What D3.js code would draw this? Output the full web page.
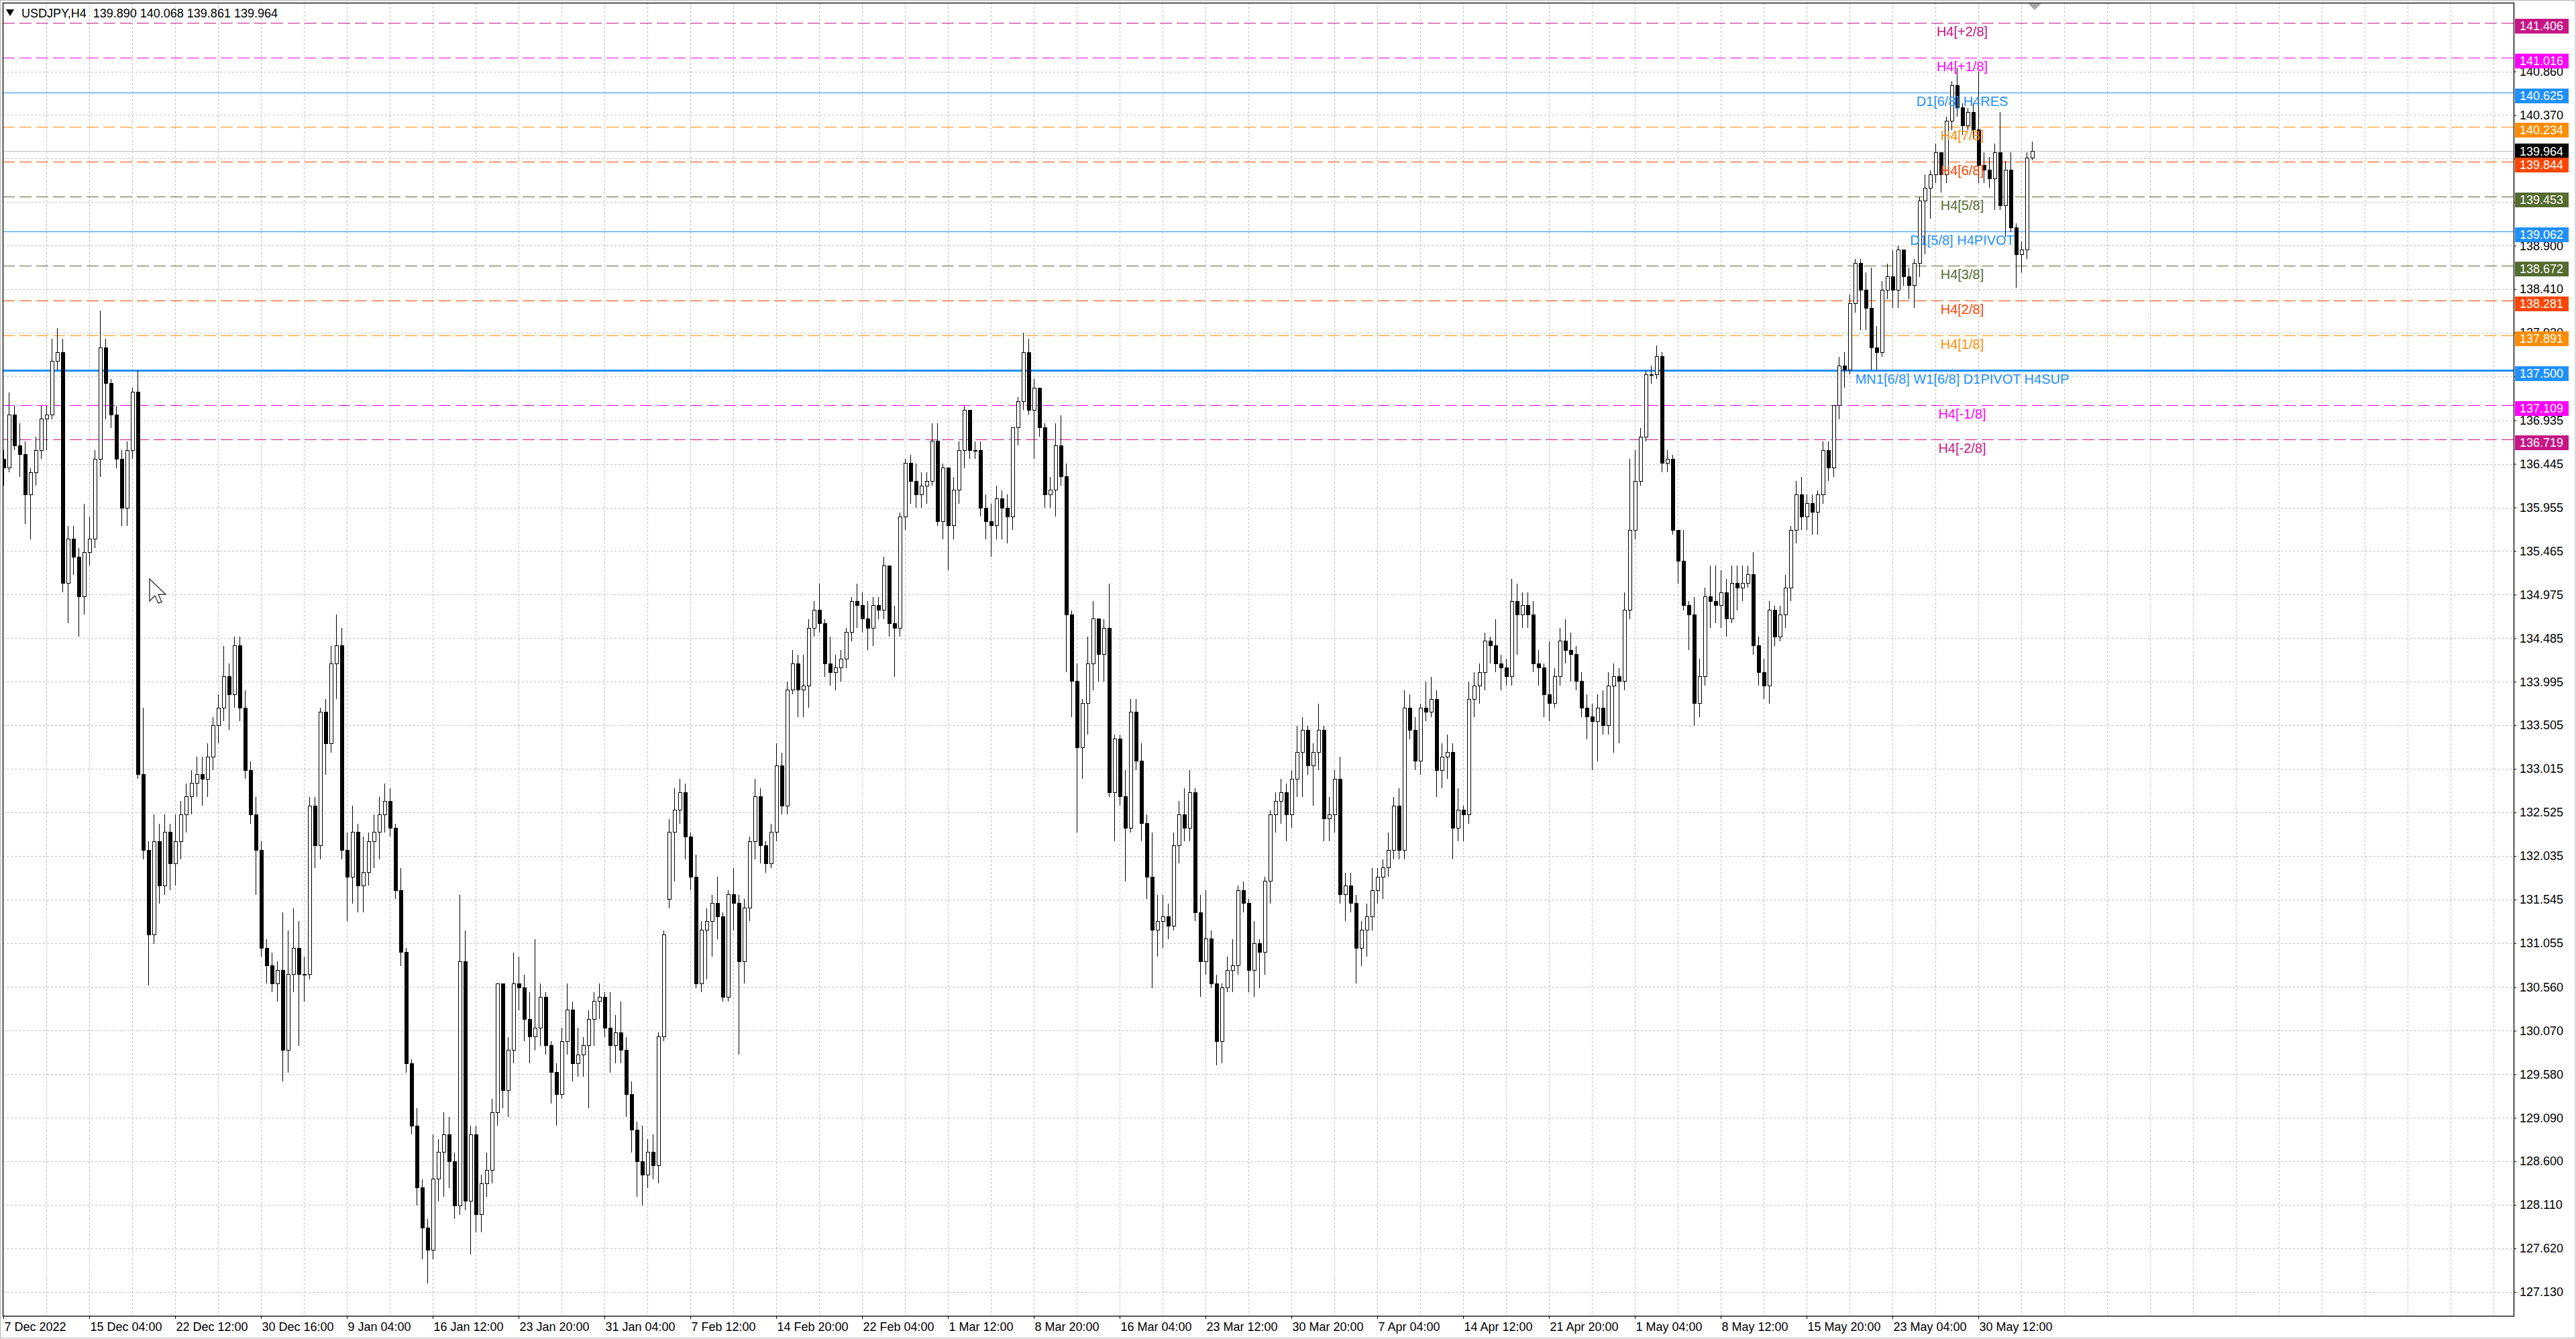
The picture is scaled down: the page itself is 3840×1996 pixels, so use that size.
<!DOCTYPE html>
<html>
<head>
<meta charset="utf-8">
<script src="https://cdn.jsdelivr.net/npm/d3@7"></script>
<style>
  body { margin: 0; background: #ffffff; }
  svg { display: block; font-family: "Liberation Sans", Arial, sans-serif; }
</style>
</head>
<body>
<div id="chart"></div>
<script>
//chart title line (symbol, timeframe, last bar OHLC)
const titleText = "USDJPY,H4  139.890 140.068 139.861 139.964"

//8-hour candles, one per two H4 bars, 7 Dec 2022 -> 2 Jun 2023
const opens = [
136.5,136.4,137.0,136.65,136.55,136.1,136.35,136.6,136.95,137.0,
137.6,137.7,135.1,135.6,135.4,134.95,135.45,135.6,136.5,137.75,
137.35,137.0,136.5,135.95,136.6,137.25,132.95,132.1,131.15,132.2,
131.7,132.3,131.95,132.2,132.5,132.7,132.85,132.95,132.9,133.15,
133.5,133.7,134.05,133.85,134.4,133.7,133.0,132.5,132.1,131.0,
130.8,130.6,130.75,129.85,130.7,131.0,130.7,130.7,132.6,132.15,
133.65,133.3,134.2,134.4,132.1,131.8,132.3,131.7,131.85,132.2,
132.3,132.5,132.65,132.35,131.65,130.95,129.7,129.0,128.3,127.85,
127.6,128.4,128.7,128.9,128.6,128.1,130.85,128.15,128.9,128.0,
128.35,128.5,129.15,130.6,129.4,129.85,130.6,130.55,130.2,130.0,
130.1,130.45,129.9,129.6,129.35,129.95,130.3,129.7,129.8,129.9,
130.2,130.4,130.45,130.1,129.9,130.05,129.85,129.35,128.95,128.6,
128.45,128.7,128.55,130.0,131.55,132.3,132.55,132.75,132.25,131.8,
130.6,131.2,131.3,131.5,131.35,130.45,131.6,131.5,130.85,131.45,
132.2,132.7,132.15,131.95,132.3,133.05,132.6,133.9,134.2,133.9,
133.95,134.6,134.8,134.65,134.2,134.1,134.15,134.25,134.55,134.9,
134.85,134.7,134.6,134.85,134.8,135.3,134.65,134.6,135.85,136.45,
136.25,136.1,136.2,136.25,136.7,135.8,136.4,135.75,136.15,136.6,
137.05,136.6,136.6,135.95,135.8,135.75,136.05,135.95,135.85,136.85,
137.15,137.7,137.05,137.3,136.85,136.1,136.15,136.65,136.3,134.75,
134.0,133.25,133.75,134.2,134.7,134.3,134.6,132.75,133.35,132.7,
132.35,133.65,133.1,132.4,131.8,131.2,131.3,131.35,131.25,132.15,
132.5,132.35,132.75,131.4,130.85,131.1,130.6,129.95,130.55,130.75,
130.8,131.65,131.5,130.75,131.05,130.95,131.75,132.5,132.65,132.75,
132.5,132.9,133.2,133.45,133.05,133.2,133.45,132.45,132.5,132.9,
131.6,131.7,131.5,131.0,131.2,131.35,131.65,131.8,131.9,132.1,
132.6,132.1,133.7,133.45,133.1,133.7,133.65,133.8,133.0,133.15,
133.2,132.35,132.55,132.5,133.8,133.95,134.1,134.45,134.4,134.2,
134.15,134.05,134.9,134.75,134.85,134.75,134.2,134.15,133.85,133.75,
134.05,134.45,134.35,134.3,134.0,133.7,133.6,133.55,133.7,133.5,
133.95,134.05,134.0,134.8,135.7,136.25,136.75,137.45,137.45,137.65,
136.45,136.5,135.7,135.35,134.85,134.75,133.75,134.05,134.95,134.9,
134.85,135.0,134.7,135.1,135.05,135.1,135.2,134.4,134.1,133.95,
134.8,134.5,134.75,135.05,135.7,136.1,135.85,136.0,135.9,136.1,
136.6,136.4,137.1,137.55,137.5,138.25,138.7,138.4,138.2,137.75,
137.7,138.4,138.55,138.4,138.85,138.55,138.45,138.7,139.4,139.55,
139.7,139.95,139.7,140.3,140.7,140.45,140.25,140.4,140.2,139.8,
139.75,139.65,139.95,139.35,139.75,139.1,138.8,138.85,139.89]

const highs = [
136.6,137.25,137.1,136.9,136.7,136.4,136.75,137.1,137.1,137.85,
137.97,137.85,135.75,135.75,135.5,136.0,135.85,136.6,138.17,137.85,
137.4,137.1,136.6,136.7,137.3,137.5,133.7,132.2,132.5,132.4,
132.5,132.4,132.5,132.65,132.85,133.0,133.15,133.15,133.3,133.6,
133.85,134.4,134.2,134.5,134.5,133.9,133.1,132.7,132.2,131.1,
130.95,130.85,131.4,131.2,131.45,131.3,130.9,132.7,132.7,133.7,
133.8,134.4,134.75,134.6,132.3,132.6,132.4,132.25,132.3,132.5,
132.7,132.85,132.8,132.4,131.9,131.0,129.75,129.2,128.4,127.95,
128.9,128.85,129.15,129.1,128.7,131.6,131.2,129.0,129.0,128.45,
128.7,129.3,130.6,130.6,130.0,130.95,130.9,130.7,130.5,131.1,
130.6,130.5,129.95,129.7,130.1,130.6,130.4,130.1,130.0,130.3,
130.5,130.6,130.5,130.5,130.25,130.4,130.0,129.5,129.05,129.0,
128.85,128.9,130.05,131.2,132.45,132.8,132.9,132.85,132.3,132.05,
131.3,131.45,131.6,131.8,131.4,131.65,131.9,131.6,131.55,132.25,
132.9,132.8,132.2,132.4,133.3,133.2,134.0,134.35,134.3,134.3,
134.7,134.9,135.1,134.7,134.5,134.3,134.35,134.6,134.95,135.1,
135.0,134.9,134.95,134.95,135.4,135.3,134.85,135.9,136.5,136.55,
136.45,136.35,136.35,136.9,136.9,136.45,136.4,136.3,136.7,137.1,
137.05,136.7,136.7,136.1,136.0,136.2,136.15,136.1,136.85,137.2,
137.92,137.85,137.4,137.3,136.9,136.3,136.9,136.99,136.45,134.8,
134.2,133.8,134.5,134.9,134.7,134.7,135.1,133.4,133.4,133.0,
133.8,133.8,133.3,132.5,132.3,131.6,131.6,131.5,132.3,132.65,
132.8,133.0,132.8,131.6,131.65,131.2,130.7,130.6,130.9,131.1,
131.7,131.75,131.55,131.3,131.1,131.8,132.55,132.75,132.9,132.85,
133.0,133.5,133.6,133.5,133.3,133.75,133.5,132.7,133.0,133.15,
131.85,131.85,131.6,131.3,131.5,131.9,131.9,132.0,132.3,132.7,
132.8,133.9,133.85,133.6,133.75,134.0,134.05,133.9,133.3,133.4,
133.3,132.8,132.6,134.0,134.1,134.2,134.55,134.5,134.7,134.3,
134.25,135.15,135.1,135.0,135.0,134.9,134.35,134.2,134.45,134.15,
134.6,134.7,134.55,134.4,134.1,133.85,133.75,133.85,133.9,134.1,
134.2,134.15,135.0,136.5,136.6,136.85,137.5,137.55,137.78,137.7,
136.6,136.55,135.7,135.7,134.9,134.95,134.25,135.05,135.3,135.3,
135.25,135.15,135.3,135.3,135.3,135.3,135.45,134.5,134.25,134.9,
134.85,134.85,135.2,135.75,136.25,136.3,136.1,136.1,136.15,136.7,
136.7,137.1,137.65,137.7,138.35,138.75,138.75,138.6,138.65,138.0,
138.5,138.7,138.85,138.9,138.85,138.65,138.75,139.45,139.7,139.75,
140.05,139.95,140.35,140.75,140.9,140.5,140.45,140.5,140.86,139.95,
139.9,140.05,140.4,139.85,139.95,139.15,138.95,139.95,140.068]

const lows = [
136.2,136.35,136.6,136.3,135.77,135.6,136.2,136.5,136.6,136.95,
137.5,135.0,134.65,135.2,134.5,134.75,135.3,135.5,136.3,136.95,
136.85,136.4,135.75,135.75,136.5,132.9,132.0,130.58,131.05,131.5,
131.6,131.65,131.7,132.0,132.3,132.5,132.7,132.6,132.7,133.0,
133.3,133.55,133.45,133.7,133.55,132.9,132.4,131.6,130.9,130.6,
130.5,130.4,129.5,129.6,130.5,129.9,130.4,130.65,131.9,132.0,
132.95,133.2,133.8,132.0,131.3,131.5,131.4,131.4,131.7,131.9,
132.0,132.3,132.25,131.55,130.8,129.6,128.9,128.1,127.5,127.23,
127.5,128.15,128.2,128.3,127.95,128.0,128.05,127.55,127.8,127.8,
128.2,128.35,129.0,129.2,129.1,129.7,130.3,129.95,129.7,129.85,
129.9,129.8,129.25,129.0,129.3,129.8,129.5,129.55,129.55,129.2,
129.9,130.2,130.0,129.6,129.7,129.7,129.1,128.7,128.2,128.1,
128.3,128.4,128.35,129.95,131.45,131.75,132.4,132.0,131.65,130.55,
130.5,130.65,130.9,131.1,130.4,130.4,131.2,129.8,130.6,131.3,
132.0,131.95,131.85,131.9,132.2,132.5,132.5,133.85,133.6,133.6,
133.7,134.5,134.55,134.05,133.95,133.9,134.0,134.15,134.45,134.6,
134.55,134.35,134.4,134.7,134.7,134.5,134.05,134.5,135.7,136.0,
135.95,135.95,136.0,136.2,135.75,135.6,135.25,135.6,136.0,136.4,
136.5,136.5,135.85,135.6,135.4,135.6,135.6,135.55,135.7,136.65,
137.05,137.0,136.5,136.75,135.95,135.95,135.85,136.2,134.1,133.6,
132.3,132.9,133.4,133.9,134.0,134.0,132.7,132.2,132.6,131.75,
132.3,133.0,132.2,131.55,130.55,130.9,131.0,131.1,131.2,131.95,
132.2,132.2,131.3,130.45,130.7,130.55,129.68,129.7,130.5,130.5,
130.7,131.4,130.5,130.45,130.55,130.7,131.5,132.3,132.4,132.2,
132.35,132.7,132.7,132.95,132.6,133.0,132.2,132.2,132.3,131.5,
131.3,131.4,130.6,130.8,130.9,131.2,131.5,131.55,131.8,132.0,
132.0,132.0,133.35,133.0,132.95,133.55,133.6,132.7,132.8,132.9,
132.0,132.2,132.2,132.4,133.6,133.75,133.9,134.2,134.1,133.9,
133.95,133.95,134.3,134.6,134.6,134.1,133.95,133.6,133.55,133.7,
133.95,134.2,134.0,133.9,133.6,133.35,133.0,133.1,133.4,133.4,
133.2,133.3,133.9,134.7,135.6,136.2,136.7,137.35,137.4,136.35,
136.35,135.65,135.1,134.8,134.35,133.5,133.6,133.95,134.6,134.65,
134.6,134.5,134.65,134.8,134.9,135.05,134.3,133.95,133.8,133.75,
134.4,134.45,134.6,134.9,135.55,135.7,135.7,135.65,135.65,136.0,
136.25,136.3,136.95,137.3,137.45,138.15,137.95,137.95,137.5,137.5,
137.65,138.3,138.2,138.2,138.45,138.3,138.2,138.55,138.8,139.2,
139.6,139.5,139.6,140.2,140.35,140.15,140.2,140.1,139.6,139.6,
139.55,139.3,139.3,139.0,139.05,138.43,138.6,138.75,139.861]

const closes = [
136.4,137.0,136.65,136.55,136.1,136.35,136.6,136.95,137.0,137.6,
137.7,135.1,135.6,135.4,134.95,135.45,135.6,136.5,137.75,137.35,
137.0,136.5,135.95,136.6,137.25,132.95,132.1,131.15,132.2,131.7,
132.3,131.95,132.2,132.5,132.7,132.85,132.95,132.9,133.15,133.5,
133.7,134.05,133.85,134.4,133.7,133.0,132.5,132.1,131.0,130.8,
130.6,130.75,129.85,130.7,131.0,130.7,130.7,132.6,132.15,133.65,
133.3,134.2,134.4,132.1,131.8,132.3,131.7,131.85,132.2,132.3,
132.5,132.65,132.35,131.65,130.95,129.7,129.0,128.3,127.85,127.6,
128.4,128.7,128.9,128.6,128.1,130.85,128.15,128.9,128.0,128.35,
128.5,129.15,130.6,129.4,129.85,130.6,130.55,130.2,130.0,130.1,
130.45,129.9,129.6,129.35,129.95,130.3,129.7,129.8,129.9,130.2,
130.4,130.45,130.1,129.9,130.05,129.85,129.35,128.95,128.6,128.45,
128.7,128.55,130.0,131.15,132.3,132.55,132.75,132.25,131.8,130.6,
131.2,131.3,131.5,131.35,130.45,131.6,131.5,130.85,131.45,132.2,
132.7,132.15,131.95,132.3,133.05,132.6,133.9,134.2,133.9,133.95,
134.6,134.8,134.65,134.2,134.1,134.15,134.25,134.55,134.9,134.85,
134.7,134.6,134.85,134.8,135.3,134.65,134.6,135.85,136.45,136.25,
136.1,136.2,136.25,136.7,135.8,136.4,135.75,136.15,136.6,137.05,
136.6,136.6,135.95,135.8,135.75,136.05,135.95,135.85,136.85,137.15,
137.7,137.05,137.3,136.85,136.1,136.15,136.65,136.3,134.75,134.0,
133.25,133.75,134.2,134.7,134.3,134.6,132.75,133.35,132.7,132.35,
133.65,133.1,132.4,131.8,131.2,131.3,131.35,131.25,132.15,132.5,
132.35,132.75,131.4,130.85,131.1,130.6,129.95,130.55,130.75,130.8,
131.65,131.5,130.75,131.05,130.95,131.75,132.5,132.65,132.75,132.5,
132.9,133.2,133.45,133.05,133.2,133.45,132.45,132.5,132.9,131.6,
131.7,131.5,131.0,131.2,131.35,131.65,131.8,131.9,132.1,132.6,
132.1,133.7,133.45,133.1,133.7,133.65,133.8,133.0,133.15,133.2,
132.35,132.55,132.5,133.8,133.95,134.1,134.45,134.4,134.2,134.15,
134.05,134.9,134.75,134.85,134.75,134.2,134.15,133.85,133.75,134.05,
134.45,134.35,134.3,134.0,133.7,133.6,133.55,133.7,133.5,133.95,
134.05,134.0,134.8,135.7,136.25,136.75,137.45,137.45,137.65,136.45,
136.5,135.7,135.35,134.85,134.75,133.75,134.05,134.95,134.9,134.85,
135.0,134.7,135.1,135.05,135.1,135.2,134.4,134.1,133.95,134.8,
134.5,134.75,135.05,135.7,136.1,135.85,136.0,135.9,136.1,136.6,
136.4,137.1,137.55,137.5,138.25,138.7,138.4,138.2,137.75,137.7,
138.4,138.55,138.4,138.85,138.55,138.45,138.7,139.4,139.55,139.7,
139.95,139.7,140.3,140.7,140.45,140.25,140.4,140.2,139.8,139.75,
139.65,139.95,139.35,139.75,139.1,138.8,138.85,139.89,139.964]

//murrey math / pivot levels drawn on the chart
const levelPrices = [141.406, 141.016, 140.625, 140.234, 139.844, 139.453, 139.062, 138.672, 138.281, 137.891, 137.500, 137.109, 136.719]
const levelNames = ["H4[+2/8]", "H4[+1/8]", "D1[6/8] H4RES", "H4[7/8]", "H4[6/8]", "H4[5/8]", "D1[5/8] H4PIVOT",
                    "H4[3/8]", "H4[2/8]", "H4[1/8]", "MN1[6/8] W1[6/8] D1PIVOT H4SUP", "H4[-1/8]", "H4[-2/8]"]
const bidPrice = 139.964

//price scale ticks on the right (grid for all, labels hidden where a level box covers them)
const priceTicks = [140.860, 140.370, 139.880, 139.390, 138.900, 138.410, 137.920, 137.430, 136.935, 136.445,
                    135.955, 135.465, 134.975, 134.485, 133.995, 133.505, 133.015, 132.525, 132.035, 131.545,
                    131.055, 130.560, 130.070, 129.580, 129.090, 128.600, 128.110, 127.620, 127.130]
const coveredTicks = [139.880, 139.390, 137.430]

//time scale labels, one every 32 H4 bars
const dateLabels = ["7 Dec 2022", "15 Dec 04:00", "22 Dec 12:00", "30 Dec 16:00", "9 Jan 04:00", "16 Jan 12:00",
                    "23 Jan 20:00", "31 Jan 04:00", "7 Feb 12:00", "14 Feb 20:00", "22 Feb 04:00", "1 Mar 12:00",
                    "8 Mar 20:00", "16 Mar 04:00", "23 Mar 12:00", "30 Mar 20:00", "7 Apr 04:00", "14 Apr 12:00",
                    "21 Apr 20:00", "1 May 04:00", "8 May 12:00", "15 May 20:00", "23 May 04:00", "30 May 12:00"]

//page and plot frame
const W = 3840, H = 1996
const plot = {left: 4, top: 4, right: 3747, bottom: 1962}

//colour for each level, by murrey line kind
function levelColor(name) {
    if (name.startsWith("D1") || name.startsWith("MN1")) return "#1e90ff"
    if (name.includes("+2/8") || name.includes("-2/8")) return "#c71585"
    if (name.includes("+1/8") || name.includes("-1/8")) return "#ff00ff"
    if (name.includes("7/8") || name.includes("1/8")) return "#ff8c00"
    if (name.includes("6/8") || name.includes("2/8")) return "#ff4500"
    return "#556b2f"
}

//x: H4 bar index -> pixel (4 px per bar), y: price -> pixel
const x = d3.scaleLinear().domain([0, 32]).range([5, 133])
const y = d3.scaleLinear().domain([127.13, 140.86]).range([1926, 106.5])

const svg = d3.select("#chart")
  .append("svg")
    .attr("width", W)
    .attr("height", H)

svg.append("rect").attr("width", W).attr("height", H).attr("fill", "#ffffff")

svg.append("clipPath").attr("id", "plotclip")
  .append("rect")
    .attr("x", plot.left).attr("y", plot.top)
    .attr("width", plot.right - plot.left).attr("height", plot.bottom - plot.top)

const inner = svg.append("g").attr("clip-path", "url(#plotclip)")

//grid - horizontal at price ticks, vertical every 16 bars
inner.append("g")
  .selectAll("line")
  .data(priceTicks)
  .join("line")
    .attr("x1", plot.left).attr("x2", plot.right)
    .attr("y1", d => Math.round(y(d)) + 0.5)
    .attr("y2", d => Math.round(y(d)) + 0.5)
    .attr("stroke", "#c0c0c0")
    .attr("stroke-dasharray", "3,3")

inner.append("g")
  .selectAll("line")
  .data(d3.range(16, 936, 16))
  .join("line")
    .attr("x1", d => Math.round(x(d)) + 0.5)
    .attr("x2", d => Math.round(x(d)) + 0.5)
    .attr("y1", plot.top).attr("y2", plot.bottom)
    .attr("stroke", "#c0c0c0")
    .attr("stroke-dasharray", "3,3")

//level lines
inner.append("g")
  .selectAll("line")
  .data(levelPrices)
  .join("line")
    .attr("x1", plot.left).attr("x2", plot.right)
    .attr("y1", d => Math.round(y(d)) + 0.5)
    .attr("y2", d => Math.round(y(d)) + 0.5)
    .attr("stroke", (d, i) => levelColor(levelNames[i]))
    .attr("stroke-width", (d, i) => levelNames[i].startsWith("MN1") ? 3 : 1.2)
    .attr("stroke-dasharray", (d, i) => levelColor(levelNames[i]) == "#1e90ff" ? null : "18,7")

//bid line
inner.append("line")
    .attr("x1", plot.left).attr("x2", plot.right)
    .attr("y1", Math.round(y(bidPrice)) + 0.5)
    .attr("y2", Math.round(y(bidPrice)) + 0.5)
    .attr("stroke", "#c0c0c0")

//candles
const n = d3.min([opens.length, highs.length, lows.length, closes.length])
const candles = d3.range(n).map(i => ({
    i: i, o: opens[i], c: closes[i],
    h: Math.max(highs[i], opens[i], closes[i]),
    l: Math.min(lows[i], opens[i], closes[i])
}))

const cg = inner.append("g").attr("shape-rendering", "crispEdges")

cg.selectAll("line.wick")
  .data(candles)
  .join("line")
    .attr("class", "wick")
    .attr("x1", d => Math.round(x(d.i * 2)) + 0.5)
    .attr("x2", d => Math.round(x(d.i * 2)) + 0.5)
    .attr("y1", d => y(d.h))
    .attr("y2", d => y(d.l))
    .attr("stroke", "#000000")

cg.selectAll("rect.body")
  .data(candles)
  .join("rect")
    .attr("class", "body")
    .attr("x", d => Math.round(x(d.i * 2)) - 2)
    .attr("y", d => y(Math.max(d.o, d.c)))
    .attr("width", 5)
    .attr("height", d => Math.max(1, Math.abs(y(d.o) - y(d.c))))
    .attr("fill", d => d.c >= d.o ? "#ffffff" : "#000000")
    .attr("stroke", "#000000")

//level captions
inner.append("g")
  .selectAll("text")
  .data(levelPrices)
  .join("text")
    .attr("x", x(730))
    .attr("y", d => y(d) + 20)
    .attr("text-anchor", "middle")
    .attr("font-size", 20)
    .attr("fill", (d, i) => levelColor(levelNames[i]))
    .text((d, i) => levelNames[i])

//frame
svg.append("rect")
    .attr("x", plot.left + 0.5).attr("y", plot.top + 0.5)
    .attr("width", plot.right - plot.left).attr("height", plot.bottom - plot.top - 0.5)
    .attr("fill", "none")
    .attr("stroke", "#000000")
    .attr("stroke-width", 1.3)

//window edge
svg.append("rect")
    .attr("x", 0.5).attr("y", 0.5)
    .attr("width", W - 1.5).attr("height", H - 2)
    .attr("fill", "none")
    .attr("stroke", "#b4b4b4")

//price axis
const fmt = d3.format(".3f")
const yAxis = svg.append("g")
    .attr("transform", `translate(${plot.right}, 0)`)
    .call(d3.axisRight(y).tickValues(priceTicks).tickSize(4).tickPadding(5)
            .tickFormat(d => coveredTicks.includes(d) ? "" : fmt(d)))
yAxis.select(".domain").remove()
yAxis.selectAll("text").attr("font-size", 18).attr("fill", "#000000").attr("font-family", "Liberation Sans, Arial")
yAxis.selectAll("line").attr("stroke", "#000000")

//bid box (centred on the bid) and level boxes (hang just below their line)
const bidG = svg.append("g")
bidG.append("rect")
    .attr("x", plot.right + 2)
    .attr("y", Math.round(y(bidPrice)) - 11)
    .attr("width", 80).attr("height", 22)
    .attr("fill", "#000000")
bidG.append("text")
    .attr("x", plot.right + 9)
    .attr("y", y(bidPrice))
    .attr("dy", "0.35em")
    .attr("font-size", 18)
    .attr("fill", "#ffffff")
    .text(fmt(bidPrice))

const bg = svg.append("g")
bg.selectAll("rect")
  .data(levelPrices)
  .join("rect")
    .attr("x", plot.right + 2)
    .attr("y", d => Math.round(y(d)) - 6)
    .attr("width", 80)
    .attr("height", 22)
    .attr("fill", (d, i) => levelColor(levelNames[i]))
bg.selectAll("text")
  .data(levelPrices)
  .join("text")
    .attr("x", plot.right + 9)
    .attr("y", d => Math.round(y(d)) + 5)
    .attr("dy", "0.35em")
    .attr("font-size", 18)
    .attr("fill", "#ffffff")
    .text(d => fmt(d))

//time axis
const xAxis = svg.append("g")
    .attr("transform", `translate(0, ${plot.bottom})`)
    .call(d3.axisBottom(x).tickValues(dateLabels.map((d, i) => i * 32)).tickSize(4).tickPadding(5)
            .tickFormat((d, i) => dateLabels[i]))
xAxis.select(".domain").remove()
xAxis.selectAll("text")
    .attr("text-anchor", "start")
    .attr("x", 1)
    .attr("font-size", 18)
    .attr("fill", "#000000")
    .attr("font-family", "Liberation Sans, Arial")
xAxis.selectAll("line").attr("stroke", "#000000")

//title
svg.append("path")
    .attr("d", "M9,14 L21,14 L15,24 Z")
    .attr("fill", "#000000")
svg.append("text")
    .attr("x", 32).attr("y", 26)
    .attr("font-size", 18)
    .attr("fill", "#000000")
    .style("white-space", "pre")
    .text(titleText)

//chart shift marker at the top
const sx = x(757)
svg.append("path")
    .attr("d", `M${sx - 10},5 L${sx + 10},5 L${sx},15 Z`)
    .attr("fill", "#a8a8a8")

//mouse pointer left on the chart
svg.append("path")
    .attr("transform", "translate(223, 863)")
    .attr("d", "M0,0 L0,33 L8,25 L13,36 L18,34 L13,23 L24,23 Z")
    .attr("fill", "#ffffff")
    .attr("stroke", "#404040")
    .attr("stroke-width", 1.5)
</script>
</body>
</html>
